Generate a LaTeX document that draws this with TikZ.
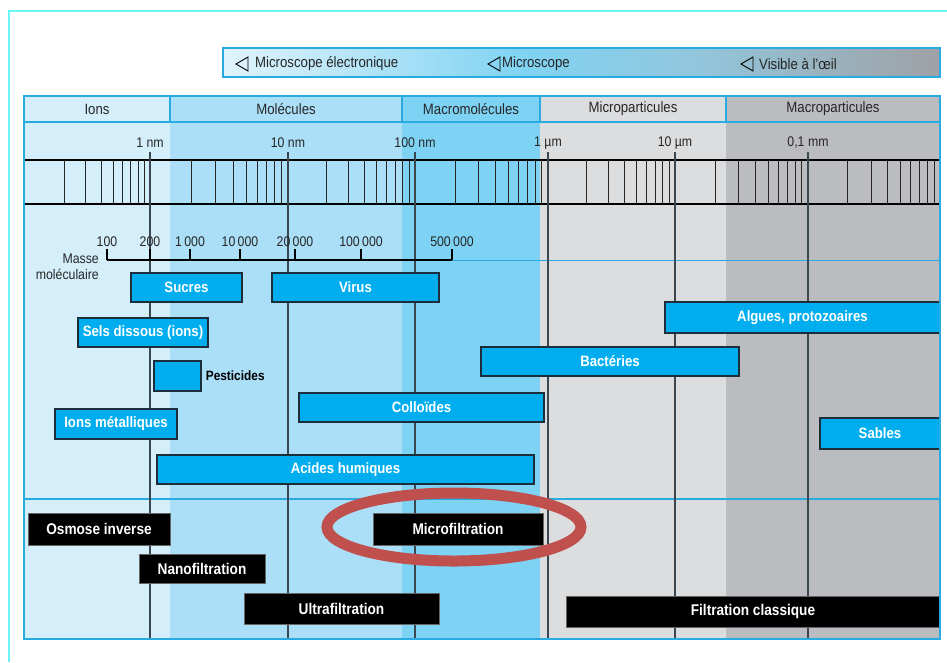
\documentclass[tikz,border=0pt]{standalone}
\usepackage{fontspec}
\setmainfont[FakeStretch=0.88]{Liberation Sans}
\usepackage{xcolor}
\usepackage{tikz}
\usetikzlibrary{positioning}

\definecolor{frameCyan}{HTML}{6AF4F6}
\definecolor{gridBlue}{HTML}{29ABE2}
\definecolor{colIons}{HTML}{D4EEFA}
\definecolor{colMol}{HTML}{AADFF7}
\definecolor{colMacro}{HTML}{7ED2F4}
\definecolor{colMicro}{HTML}{DCDDDF}
\definecolor{colPart}{HTML}{BBBCC0}
\definecolor{boxBlue}{HTML}{00AEEF}
\definecolor{boxLine}{HTML}{1C2E3A}
\definecolor{scaleLine}{HTML}{3A4650}
\definecolor{ringRed}{HTML}{C0504D}
\definecolor{barL}{HTML}{E0F3FB}
\definecolor{barM}{HTML}{7FD3F3}
\definecolor{barN}{HTML}{92C6DC}
\definecolor{barR}{HTML}{9FA1A5}

\pgfdeclarehorizontalshading{scopebar}{100bp}{color(0bp)=(barL); color(25bp)=(barL); color(46bp)=(barM); color(58bp)=(barN); color(75bp)=(barR); color(100bp)=(barR)}

\begin{document}
\begin{tikzpicture}[x=1pt, y=-1pt,
    cell/.style = {rectangle, draw=gridBlue, line width=1.2, minimum height=26, inner sep=0pt, font=\fontsize{15}{17}\selectfont, text=black!85},
    unit/.style = {inner sep=0pt, font=\fontsize{14}{16}\selectfont, text=black!85},
    mass/.style = {inner sep=0pt, font=\fontsize{14}{16}\selectfont, text=black!85},
    sample/.style = {rectangle, draw=boxLine, line width=1.3, fill=boxBlue, inner sep=0pt, minimum height=29, font=\bfseries\fontsize{15}{17}\selectfont, text=white},
    filt/.style = {rectangle, draw=black!60, line width=0.6, fill=black, inner sep=0pt, minimum height=31, font=\bfseries\fontsize{15.5}{17}\selectfont, text=white},
    scopetxt/.style = {anchor=west, inner sep=0pt, font=\fontsize{15}{17}\selectfont, text=black!85},
    rulertick/.style = {black!85, line width=0.9},
    scaleline/.style = {scaleLine, line width=1.3},
  ]
  \useasboundingbox[fill=white] (0,0) rectangle (947,662);
  \draw[frameCyan, line width=2] (9,662) -- (9,11) -- (947,11);

  % microscope bar
  \shadedraw[shading=scopebar, draw=gridBlue, line width=1.2] (223,48) rectangle (940,77);
  \foreach \tx in {236,488,741}
    \draw[black, line width=0.9, line join=miter] (\tx+12,57) -- (\tx,64) -- (\tx+12,71) -- cycle;
  \node[scopetxt] (scopeE) at (255,64) {Microscope électronique};
  \node[scopetxt] (scopeM) at (502,64) {Microscope};
  \node[scopetxt] (scopeV) at (759,64) {Visible à l’œil};

  % columns
  \foreach \xa/\xb/\col in {24/170/colIons,170/402/colMol,402/540/colMacro,540/726/colMicro,726/940/colPart}
    \fill[\col] (\xa,122) rectangle (\xb,639);
  \node[cell, fill=colIons, minimum width=146] (hIons) at (97,109) {Ions};
  \node[cell, fill=colMol, minimum width=232] (hMol) at (286,109) {Molécules};
  \node[cell, fill=colMacro, minimum width=138] (hMacro) at (471,109) {Macromolécules};
  \node[cell, fill=colMicro, minimum width=186] (hMicro) at (633,109) {Microparticules};
  \node[cell, fill=colPart, minimum width=214] (hPart) at (833,109) {Macroparticules};

  % ruler
  \draw[black, line width=1.2] (24,160) -- (940,160) (24,204) -- (940,204);
  \foreach \a/\w in {27/123,150/138,288/127,415/133,548/127,675/133,808/132}
    \foreach \k in {2,...,9}
      \draw[rulertick] ({\a+\w*log10(\k)},160) -- ({\a+\w*log10(\k)},204);

  \draw[gridBlue, line width=1] (452,260) -- (940,260);
  \draw[gridBlue, line width=1.2] (24,499) -- (940,499);

  % scale lines
  \foreach \x/\lbl/\nm in {150/1 nm/nmA,288/10 nm/nmB,415/100 nm/nmC,548/1 µm/umA,675/10 µm/umB,808/{0,1 mm}/mmA} {
    \node[unit] (\nm) at (\x,143) {\lbl};
    \draw[scaleline] (\x,152) -- (\x,639);
  }

  % molecular mass
  \draw[black, line width=1.1] (107,260) -- (452,260);
  \foreach \x/\m in {107/100,150/200,190/1\,000,240/10\,000,295/20\,000,361/100\,000,452/500\,000} {
    \node[mass] (m\x) at (\x,242) {\m};
    \draw[black, line width=1.1] (\x,249) -- (\x,260);
  }
  \node[mass, anchor=east, align=right] (masse) at (99,267) {Masse\\moléculaire};

  % substances
  \node[sample, minimum width=111] (sucres) at (186.5,287.5) {Sucres};
  \node[sample, minimum width=167] (virus) at (355.5,287.5) {Virus};
  \node[sample, minimum width=130] (sels) at (143,332.5) {Sels dissous (ions)};
  \node[sample, minimum width=275, minimum height=31] (algues) at (802.5,317.5) {Algues, protozoaires};
  \node[sample, minimum width=258] (bact) at (610,361.5) {Bactéries};
  \node[sample, minimum width=47, minimum height=30] (pest) at (177.5,376) {};
  \node[anchor=west, inner sep=0pt, font=\bfseries\fontsize{13.5}{15}\selectfont] (pestLbl) [right=4pt of pest] {Pesticides};
  \node[sample, minimum width=245] (colloides) at (421.5,407.5) {Colloïdes};
  \node[sample, minimum width=122, minimum height=30] (ionsmet) at (116,424) {Ions métalliques};
  \node[sample, minimum width=120, minimum height=31] (sables) at (880,433.5) {Sables};
  \node[sample, minimum width=377] (acides) at (345.5,469.5) {Acides humiques};

  % filtration
  \node[filt, minimum width=142, minimum height=32] (osmose) at (99,529) {Osmose inverse};
  \node[filt, minimum width=170, minimum height=32] (microf) at (458,529) {Microfiltration};
  \node[filt, minimum width=126, minimum height=29] (nanof) at (202,568.5) {Nanofiltration};
  \node[filt, minimum width=195] (ultraf) at (341.5,608.5) {Ultrafiltration};
  \node[filt, minimum width=374] (classique) at (753,611.5) {Filtration classique};

  \draw[gridBlue, line width=1.2] (24,96) rectangle (940,639);
  \draw[ringRed, line width=11] (454,527) ellipse [x radius=127pt, y radius=34pt];
\end{tikzpicture}
\end{document}
